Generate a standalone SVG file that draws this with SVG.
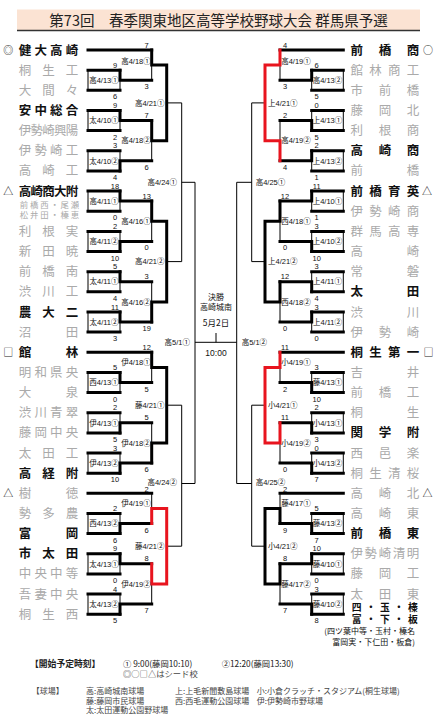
<svg xmlns="http://www.w3.org/2000/svg" width="441" height="720" viewBox="0 0 441 720">
<style>
.tk{stroke:#000;stroke-width:3;fill:none;stroke-linecap:square}
.rd{stroke:#e8141e;stroke-width:3;fill:none;stroke-linecap:square}
.tn{stroke:#000;stroke-width:1;fill:none}
text{font-family:"Liberation Sans","Noto Sans CJK JP",sans-serif}
.nb{font-family:"Noto Sans CJK JP",sans-serif;font-size:12.5px;font-weight:bold;fill:#111;text-anchor:middle}
.ng{font-family:"Noto Sans CJK JP",sans-serif;font-size:12.5px;fill:#aaa;text-anchor:middle}
.sd{font-family:"Noto Sans CJK JP",sans-serif;font-size:10px;fill:#222;text-anchor:middle}
.lb{font-size:7.5px;fill:#111;text-anchor:middle}
.le{font-size:7.5px;fill:#111;text-anchor:end}
.ls{font-size:7.5px;fill:#111;text-anchor:start}
.sc{font-size:7.5px;fill:#111;text-anchor:middle}
.cj{font-family:"Noto Sans CJK JP",sans-serif}
.lg{font-family:"Noto Sans CJK JP",sans-serif;font-size:8px;fill:#444}
</style>
<g id="title">
<rect x="17" y="9.5" width="403" height="20.5" fill="#fbe3d3"/>
<line x1="17" y1="30.5" x2="420" y2="30.5" stroke="#333" stroke-width="1.5"/>
<text class="cj" x="218.5" y="25.5" font-size="14.5" fill="#222" text-anchor="middle">第73回　春季関東地区高等学校野球大会 群馬県予選</text>
</g>
<g id="connectors">
<g class="tn">
<rect x="88" y="70.2" width="32" height="20.1"/><rect x="88" y="110.5" width="32" height="20.1"/><rect x="88" y="150.8" width="32" height="20.1"/>
<rect x="88" y="191.1" width="32" height="20.1"/><rect x="88" y="231.4" width="32" height="20.1"/><rect x="88" y="271.7" width="32" height="20.1"/><rect x="88" y="312" width="32" height="20.1"/>
<rect x="88" y="372.4" width="32" height="20.2"/><rect x="88" y="412.7" width="32" height="20.2"/><rect x="88" y="453" width="32" height="20.2"/>
<rect x="88" y="513.5" width="32" height="20.1"/><rect x="88" y="553.8" width="32" height="20.1"/><rect x="88" y="594.1" width="32" height="20.1"/>
<rect x="311.7" y="70.2" width="31.6" height="20.1"/><rect x="311.7" y="110.5" width="31.6" height="20.1"/><rect x="311.7" y="150.8" width="31.6" height="20.1"/>
<rect x="311.7" y="191.1" width="31.6" height="20.1"/><rect x="311.7" y="231.4" width="31.6" height="20.1"/><rect x="311.7" y="271.7" width="31.6" height="20.1"/><rect x="311.7" y="312" width="31.6" height="20.1"/>
<rect x="311.7" y="372.4" width="31.6" height="20.2"/><rect x="311.7" y="412.7" width="31.6" height="20.2"/><rect x="311.7" y="453" width="31.6" height="20.2"/>
<rect x="311.7" y="513.5" width="31.6" height="20.1"/><rect x="311.7" y="553.8" width="31.6" height="20.1"/><rect x="311.7" y="594.1" width="31.6" height="20.1"/>
<path d="M151.7 50V80.2M151.7 120.5V160.8M151.7 201.1V241.4M151.7 281.7V322M151.7 352.3V382.5M151.7 422.8V463.1M151.7 493.3V523.5M151.7 563.8V604.1"/>
<path d="M280 50V80.2M280 120.5V160.8M280 201.1V241.4M280 281.7V322M280 352.3V382.5M280 422.8V463.1M280 493.3V523.5M280 563.8V604.1"/>
<path d="M166.7 102.9H181.7M166.7 261.6H181.7M166.7 405.2H181.7M166.7 546.2H181.7M181.7 102.9V261.6M181.7 182.3H195M181.7 405.2V546.2M181.7 483.5H195M195 182.3V483.5M195 342.3H236.7M216 333V342.3"/>
<path d="M265 102.9H251.7M265 261.6H251.7M265 405.2H251.7M265 546.2H251.7M251.7 102.9V261.6M251.7 182.3H236.7M251.7 405.2V546.2M251.7 483.5H236.7M236.7 182.3V483.5"/>
</g>
<g class="tk">
<path d="M88 70.2H120M88 90.3H120M88 110.5H120M88 130.6H120M88 150.8H120M88 170.9H120M88 191.1H120M88 211.2H120M88 231.4H120M88 251.5H120M88 271.7H120M88 291.8H120M88 312H120M88 332.1H120M88 372.4H120M88 392.6H120M88 412.7H120M88 432.9H120M88 453H120M88 473.2H120M88 513.5H120M88 533.6H120M88 553.8H120M88 573.9H120M88 594.1H120M88 614.2H120"/>
<path d="M88 50H151.7M88 352.3H151.7M88 493.3H151.7"/>
<path d="M120 70.2V80.2H151.7M120 110.5V120.5H151.7M120 170.9V160.8H151.7M120 191.1V201.1H151.7M120 251.5V241.4H151.7M120 271.7V281.7H151.7M120 312V322H151.7M120 372.4V382.5H151.7M120 432.9V422.8H151.7M120 473.2V463.1H151.7M120 533.6V523.5H151.7M120 553.8V563.8H151.7M120 614.2V604.1H151.7"/>
<path d="M151.7 50V65.1H166.7M151.7 120.5V140.7H166.7M151.7 201.1V221.3H166.7M151.7 322V301.9H166.7M151.7 352.3V367.4H166.7M151.7 463.1V443H166.7M166.7 65.1V140.7M166.7 221.3V301.9M166.7 367.4V443"/>
<path d="M311.7 70.2H343.3M311.7 90.3H343.3M311.7 110.5H343.3M311.7 130.6H343.3M311.7 150.8H343.3M311.7 170.9H343.3M311.7 191.1H343.3M311.7 211.2H343.3M311.7 231.4H343.3M311.7 251.5H343.3M311.7 271.7H343.3M311.7 291.8H343.3M311.7 312H343.3M311.7 332.1H343.3M311.7 372.4H343.3M311.7 392.6H343.3M311.7 412.7H343.3M311.7 432.9H343.3M311.7 453H343.3M311.7 473.2H343.3M311.7 513.5H343.3M311.7 533.6H343.3M311.7 553.8H343.3M311.7 573.9H343.3M311.7 594.1H343.3M311.7 614.2H343.3"/>
<path d="M343.3 50H280M343.3 352.3H280M343.3 493.3H280"/>
<path d="M311.7 70.2V80.2H280M311.7 130.6V120.5H280M311.7 150.8V160.8H280M311.7 191.1V201.1H280M311.7 251.5V241.4H280M311.7 291.8V281.7H280M311.7 312V322H280M311.7 392.6V382.5H280M311.7 432.9V422.8H280M311.7 473.2V463.1H280M311.7 533.6V523.5H280M311.7 553.8V563.8H280M311.7 614.2V604.1H280"/>
<path d="M280 201.1V221.3H265M280 281.7V301.9H265M280 523.5V508.4H265M280 563.8V584H265M265 221.3V301.9M265 508.4V584"/>
</g>
<g class="rd">
<path d="M151.7 523.5V508.4H166.7M151.7 563.8V584H166.7M166.7 508.4V584"/>
<path d="M280 50V65.1H265M280 160.8V140.7H265M265 65.1V140.7M280 352.3V367.4H265M280 422.8V443H265M265 367.4V443"/>
</g>
</g>
<g id="match-labels">
<text class="lb" x="104" y="82.9">高4/13①</text><text class="lb" x="104" y="123.2">太4/10①</text><text class="lb" x="104" y="163.5">太4/10②</text>
<text class="lb" x="104" y="203.8">高4/11①</text><text class="lb" x="104" y="244.1">高4/11②</text><text class="lb" x="104" y="284.4">太4/11①</text><text class="lb" x="104" y="324.7">太4/11②</text>
<text class="lb" x="104" y="385.2">西4/13①</text><text class="lb" x="104" y="425.5">伊4/13①</text><text class="lb" x="104" y="465.8">伊4/13②</text>
<text class="lb" x="104" y="526.2">西4/13②</text><text class="lb" x="104" y="566.5">太4/13①</text><text class="lb" x="104" y="606.8">太4/13②</text>
<text class="lb" x="136" y="63.7">高4/18①</text><text class="lb" x="136" y="143.4">高4/18②</text><text class="lb" x="136" y="224">高4/16①</text><text class="lb" x="136" y="304.6">高4/16②</text>
<text class="lb" x="136" y="365.2">伊4/18①</text><text class="lb" x="136" y="445.7">伊4/18②</text><text class="lb" x="136" y="506.2">伊4/19①</text><text class="lb" x="136" y="586.7">伊4/19②</text>
<text class="le" x="164.5" y="105.6">高4/21①</text><text class="le" x="164.5" y="264.3">高4/21②</text><text class="le" x="164.5" y="407.9">藤4/21①</text><text class="le" x="164.5" y="548.9">藤4/21②</text>
<text class="le" x="177" y="185">高4/24①</text><text class="le" x="177" y="484.6">高4/24②</text>
<text class="le" x="190" y="345">高5/1①</text>
<text class="lb" x="327.5" y="82.9">高4/13②</text><text class="lb" x="327.5" y="123.2">上4/13①</text><text class="lb" x="327.5" y="163.5">上4/13②</text>
<text class="lb" x="327.5" y="203.8">上4/10①</text><text class="lb" x="327.5" y="244.1">上4/10②</text><text class="lb" x="327.5" y="284.4">上4/11①</text><text class="lb" x="327.5" y="324.7">上4/11②</text>
<text class="lb" x="327.5" y="385.2">藤4/13①</text><text class="lb" x="327.5" y="425.5">小4/13①</text><text class="lb" x="327.5" y="465.8">小4/13②</text>
<text class="lb" x="327.5" y="526.2">藤4/13②</text><text class="lb" x="327.5" y="566.5">藤4/10①</text><text class="lb" x="327.5" y="606.8">藤4/10②</text>
<text class="lb" x="296" y="63.7">高4/19①</text><text class="lb" x="296" y="143.4">高4/19②</text><text class="lb" x="296" y="224">西4/18①</text><text class="lb" x="296" y="304.6">西4/18②</text>
<text class="lb" x="296" y="365.2">小4/19①</text><text class="lb" x="296" y="445.7">小4/19②</text><text class="lb" x="296" y="506.2">藤4/17①</text><text class="lb" x="296" y="586.7">藤4/17②</text>
<text class="ls" x="268" y="105.6">上4/21①</text><text class="ls" x="268" y="264.3">上4/21②</text><text class="ls" x="268" y="407.9">小4/21①</text><text class="ls" x="268" y="548.9">小4/21②</text>
<text class="ls" x="255.7" y="185">高4/25①</text><text class="ls" x="255.7" y="484.6">高4/25②</text>
<text class="ls" x="241.7" y="345">高5/1②</text>
</g>
<g id="final">
<text class="cj" x="216" y="299.5" font-size="8" text-anchor="middle" fill="#111">決勝</text>
<text class="cj" x="216" y="309.5" font-size="8" text-anchor="middle" fill="#111">高崎城南</text>
<text class="cj" x="216" y="325.5" font-size="8.5" text-anchor="middle" fill="#111">5月2日</text>
<text x="216" y="355.8" font-size="8.5" text-anchor="middle" fill="#111">10:00</text>
</g>
<g id="scores">
<text class="sc" x="115" y="67.7">9</text><text class="sc" x="115" y="99.3">6</text>
<text class="sc" x="115" y="108">9</text><text class="sc" x="115" y="139.6">2</text>
<text class="sc" x="115" y="148.3">3</text><text class="sc" x="115" y="179.9">4</text>
<text class="sc" x="115" y="188.6">18</text><text class="sc" x="115" y="220.2">0</text>
<text class="sc" x="115" y="228.9">2</text><text class="sc" x="115" y="260.5">10</text>
<text class="sc" x="115" y="269.2">5</text><text class="sc" x="115" y="300.8">4</text>
<text class="sc" x="115" y="309.5">11</text><text class="sc" x="115" y="341.1">3</text>
<text class="sc" x="115" y="369.9">5</text><text class="sc" x="115" y="401.6">0</text>
<text class="sc" x="115" y="410.2">2</text><text class="sc" x="115" y="441.9">5</text>
<text class="sc" x="115" y="450.5">3</text><text class="sc" x="115" y="482.2">10</text>
<text class="sc" x="115" y="511">2</text><text class="sc" x="115" y="542.6">6</text>
<text class="sc" x="115" y="551.3">9</text><text class="sc" x="115" y="582.9">0</text>
<text class="sc" x="115" y="591.6">4</text><text class="sc" x="115" y="623.2">5</text>
<text class="sc" x="146.7" y="47.5">7</text><text class="sc" x="146.7" y="89.2">3</text>
<text class="sc" x="146.7" y="118">7</text><text class="sc" x="146.7" y="169.8">6</text>
<text class="sc" x="146.7" y="198.6">13</text><text class="sc" x="146.7" y="250.4">0</text>
<text class="sc" x="146.7" y="279.2">3</text><text class="sc" x="146.7" y="331">19</text>
<text class="sc" x="146.7" y="349.8">12</text><text class="sc" x="146.7" y="391.5">5</text>
<text class="sc" x="146.7" y="420.3">5</text><text class="sc" x="146.7" y="472.1">6</text>
<text class="sc" x="146.7" y="491.6">2</text><text class="sc" x="146.7" y="532.5">6</text>
<text class="sc" x="146.7" y="561.3">8</text><text class="sc" x="146.7" y="613.1">7</text>
<text class="sc" x="316.7" y="67.7">6</text><text class="sc" x="316.7" y="99.3">5</text>
<text class="sc" x="316.7" y="108">0</text><text class="sc" x="316.7" y="139.6">5</text>
<text class="sc" x="316.7" y="148.3">2</text><text class="sc" x="316.7" y="179.9">1</text>
<text class="sc" x="316.7" y="188.6">11</text><text class="sc" x="316.7" y="220.2">1</text>
<text class="sc" x="316.7" y="228.9">3</text><text class="sc" x="316.7" y="260.5">10</text>
<text class="sc" x="316.7" y="269.2">3</text><text class="sc" x="316.7" y="300.8">4</text>
<text class="sc" x="316.7" y="309.5">3</text><text class="sc" x="316.7" y="341.1">0</text>
<text class="sc" x="316.7" y="369.9">3</text><text class="sc" x="316.7" y="401.6">10</text>
<text class="sc" x="316.7" y="410.2">2</text><text class="sc" x="316.7" y="441.9">3</text>
<text class="sc" x="316.7" y="450.5">0</text><text class="sc" x="316.7" y="482.2">7</text>
<text class="sc" x="316.7" y="511">5</text><text class="sc" x="316.7" y="542.6">7</text>
<text class="sc" x="316.7" y="551.3">10</text><text class="sc" x="316.7" y="582.9">0</text>
<text class="sc" x="316.7" y="591.6">3</text><text class="sc" x="316.7" y="623.2">8</text>
<text class="sc" x="285" y="47.5">4</text><text class="sc" x="285" y="89.2">3</text>
<text class="sc" x="285" y="118">2</text><text class="sc" x="285" y="169.8">4</text>
<text class="sc" x="285" y="198.6">12</text><text class="sc" x="285" y="250.4">0</text>
<text class="sc" x="285" y="279.2">12</text><text class="sc" x="285" y="331">0</text>
<text class="sc" x="285" y="349.8">11</text><text class="sc" x="285" y="391.5">2</text>
<text class="sc" x="285" y="420.3">11</text><text class="sc" x="285" y="472.1">0</text>
<text class="sc" x="285" y="491.6">2</text><text class="sc" x="285" y="532.5">9</text>
<text class="sc" x="285" y="561.3">8</text><text class="sc" x="285" y="613.1">7</text>
</g>
<g id="team-L00"><text class="sd" x="8.3" y="54">◎</text><text class="nb" x="25 40.7 56.3 72" y="54.5">健大高崎</text></g>
<g id="team-L01"><text class="ng" x="25 48.5 72" y="74.7">桐生工</text></g>
<g id="team-L02"><text class="ng" x="25 48.5 72" y="94.8">大間々</text></g>
<g id="team-L03"><text class="nb" x="25 40.7 56.3 72" y="115">安中総合</text></g>
<g id="team-L04"><text class="ng" x="25 36.8 48.5 60.3 72" y="135.1">伊勢崎興陽</text></g>
<g id="team-L05"><text class="ng" x="25 40.7 56.3 72" y="155.3">伊勢崎工</text></g>
<g id="team-L06"><text class="ng" x="25 48.5 72" y="175.4">高崎工</text></g>
<g id="team-L07"><text class="sd" x="8.3" y="195">△</text><text class="nb" x="25 36.8 48.5 60.3 72" y="195.6">高崎商大附</text></g>
<g id="team-L08"><text class="ng" style="font-size:8.4px" x="24 34.2 44.4 54.6 64.8 75" y="208">前橋西・尾瀬</text><text class="ng" style="font-size:8.4px" x="24 34.2 44.4 54.6 64.8 75" y="217.6">松井田・榛恵</text></g>
<g id="team-L09"><text class="ng" x="25 48.5 72" y="235.9">利根実</text></g>
<g id="team-L10"><text class="ng" x="25 48.5 72" y="256">新田暁</text></g>
<g id="team-L11"><text class="ng" x="25 48.5 72" y="276.2">前橋南</text></g>
<g id="team-L12"><text class="ng" x="25 48.5 72" y="296.3">渋川工</text></g>
<g id="team-L13"><text class="nb" x="25 48.5 72" y="316.5">農大二</text></g>
<g id="team-L14"><text class="ng" x="25 72" y="336.6">沼田</text></g>
<g id="team-L15"><text class="sd" x="8.3" y="356.3">□</text><text class="nb" x="25 72" y="356.8">館林</text></g>
<g id="team-L16"><text class="ng" x="25 40.7 56.3 72" y="376.9">明和県央</text></g>
<g id="team-L17"><text class="ng" x="25 72" y="397.1">大泉</text></g>
<g id="team-L18"><text class="ng" x="25 40.7 56.3 72" y="417.2">渋川青翠</text></g>
<g id="team-L19"><text class="ng" x="25 40.7 56.3 72" y="437.4">藤岡中央</text></g>
<g id="team-L20"><text class="ng" x="25 48.5 72" y="457.5">太田工</text></g>
<g id="team-L21"><text class="nb" x="25 48.5 72" y="477.7">高経附</text></g>
<g id="team-L22"><text class="sd" x="8.3" y="497.3">△</text><text class="ng" x="25 72" y="497.8">樹徳</text></g>
<g id="team-L23"><text class="ng" x="25 48.5 72" y="518">勢多農</text></g>
<g id="team-L24"><text class="nb" x="25 72" y="538.1">富岡</text></g>
<g id="team-L25"><text class="nb" x="25 48.5 72" y="558.3">市太田</text></g>
<g id="team-L26"><text class="ng" x="25 40.7 56.3 72" y="578.4">中央中等</text></g>
<g id="team-L27"><text class="ng" x="25 40.7 56.3 72" y="598.6">吾妻中央</text></g>
<g id="team-L28"><text class="ng" x="25 48.5 72" y="618.7">桐生西</text></g>
<g id="team-R00"><text class="nb" x="356.7 384.9 413" y="54.5">前橋商</text><text class="sd" x="428" y="54">○</text></g>
<g id="team-R01"><text class="ng" x="356.7 375.5 394.2 413" y="74.7">館林商工</text></g>
<g id="team-R02"><text class="ng" x="356.7 384.9 413" y="94.8">市前橋</text></g>
<g id="team-R03"><text class="ng" x="356.7 384.9 413" y="115">藤岡北</text></g>
<g id="team-R04"><text class="ng" x="356.7 384.9 413" y="135.1">利根商</text></g>
<g id="team-R05"><text class="nb" x="356.7 384.9 413" y="155.3">高崎商</text></g>
<g id="team-R06"><text class="ng" x="356.7 413" y="175.4">前橋</text></g>
<g id="team-R07"><text class="nb" x="356.7 375.5 394.2 413" y="195.6">前橋育英</text><text class="sd" x="427" y="195">△</text></g>
<g id="team-R08"><text class="ng" x="356.7 375.5 394.2 413" y="215.7">伊勢崎商</text></g>
<g id="team-R09"><text class="ng" x="356.7 375.5 394.2 413" y="235.9">群馬高専</text></g>
<g id="team-R10"><text class="ng" x="356.7 413" y="256">高崎</text></g>
<g id="team-R11"><text class="ng" x="356.7 413" y="276.2">常磐</text></g>
<g id="team-R12"><text class="nb" x="356.7 413" y="296.3">太田</text></g>
<g id="team-R13"><text class="ng" x="356.7 413" y="316.5">渋川</text></g>
<g id="team-R14"><text class="ng" x="356.7 384.9 413" y="336.6">伊勢崎</text></g>
<g id="team-R15"><text class="nb" x="356.7 375.5 394.2 413" y="356.8">桐生第一</text><text class="sd" x="428.5" y="356.3">□</text></g>
<g id="team-R16"><text class="ng" x="356.7 413" y="376.9">吉井</text></g>
<g id="team-R17"><text class="ng" x="356.7 384.9 413" y="397.1">前橋工</text></g>
<g id="team-R18"><text class="ng" x="356.7 413" y="417.2">桐生</text></g>
<g id="team-R19"><text class="nb" x="356.7 384.9 413" y="437.4">関学附</text></g>
<g id="team-R20"><text class="ng" x="356.7 384.9 413" y="457.5">西邑楽</text></g>
<g id="team-R21"><text class="ng" x="356.7 375.5 394.2 413" y="477.7">桐生清桜</text></g>
<g id="team-R22"><text class="ng" x="356.7 384.9 413" y="497.8">高崎北</text><text class="sd" x="427.5" y="497.3">△</text></g>
<g id="team-R23"><text class="ng" x="356.7 384.9 413" y="518">高崎東</text></g>
<g id="team-R24"><text class="nb" x="356.7 384.9 413" y="538.1">前橋東</text></g>
<g id="team-R25"><text class="ng" x="356.7 370.8 384.9 398.9 413" y="558.3">伊勢崎清明</text></g>
<g id="team-R26"><text class="ng" x="356.7 384.9 413" y="578.4">藤岡工</text></g>
<g id="team-R27"><text class="ng" x="356.7 384.9 413" y="598.6">太田東</text></g>
<g id="team-R28"><text class="nb" style="font-size:9.8px" x="356.7 370.8 384.9 398.9 413" y="611.3">四・玉・榛</text><text class="nb" style="font-size:9.8px" x="356.7 370.8 384.9 398.9 413" y="622.5">富・下・板</text>
<text class="cj" x="415" y="634.3" font-size="8" text-anchor="end" fill="#111">(四ツ葉中等・玉村・榛名</text><text class="cj" x="415" y="644.5" font-size="8" text-anchor="end" fill="#111">富岡実・下仁田・板倉)</text></g>
<g id="legend">
<text class="cj" x="30" y="666.5" font-size="8.8" font-weight="bold" fill="#222">【開始予定時刻】</text>
<text class="cj" x="123" y="666.5" font-size="8.3" fill="#222">①  9:00(藤岡10:10)</text>
<text class="cj" x="221.7" y="666.5" font-size="8.3" fill="#222">②12:20(藤岡13:30)</text>
<text class="cj" x="123" y="676.5" font-size="8.3" fill="#444">◎○□△はシード校</text>
<text class="lg" x="31.7" y="694" fill="#222">【球場】</text>
<text class="lg" x="86" y="694">高:高崎城南球場</text>
<text class="lg" x="175" y="694">上:上毛新聞敷島球場</text>
<text class="lg" x="256.7" y="694">小:小倉クラッチ・スタジアム(桐生球場)</text>
<text class="lg" x="86" y="703.7">藤:藤岡市民球場</text>
<text class="lg" x="175" y="703.7">西:西毛運動公園球場</text>
<text class="lg" x="256.7" y="703.7">伊:伊勢崎市野球場</text>
<text class="lg" x="86" y="713">太:太田運動公園野球場</text>
</g>
</svg>
